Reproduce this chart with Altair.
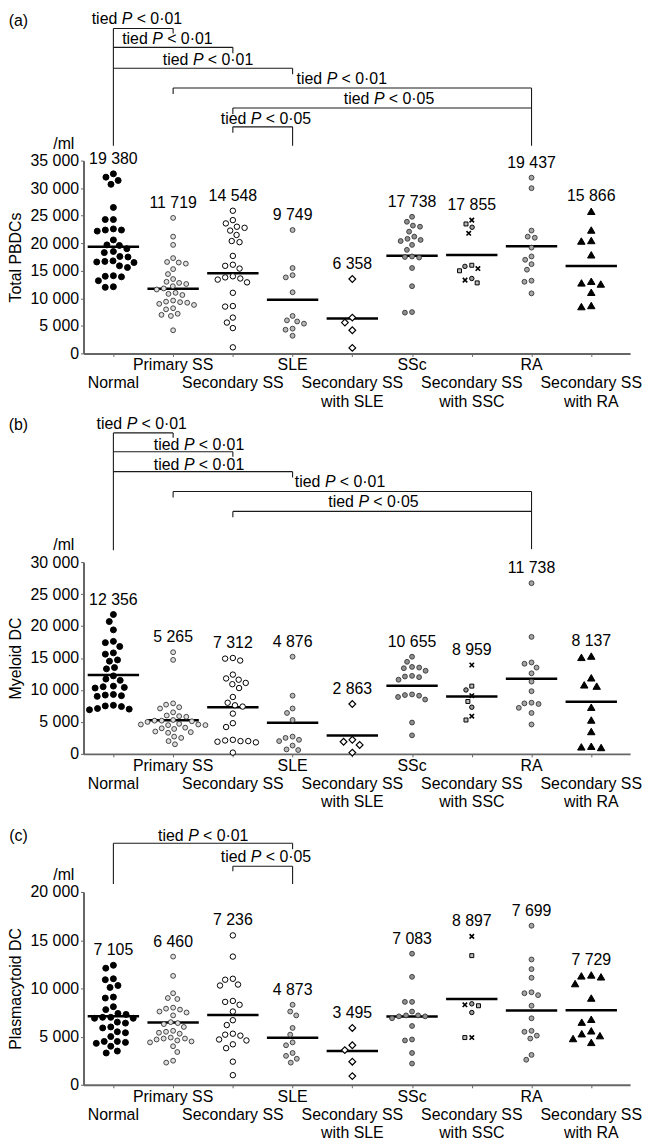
import altair as alt
import pandas as pd

# ---------------- data ----------------
GROUPS = ["Normal", "Primary SS", "Secondary SS", "SLE", "Secondary SS with SLE",
          "SSc", "Secondary SS with SSC", "RA", "Secondary SS with RA"]
LABEL_LINES = [["Normal"], ["Primary SS"], ["Secondary SS"], ["SLE"],
               ["Secondary SS", "with SLE"], ["SSc"], ["Secondary SS", "with SSC"],
               ["RA"], ["Secondary SS", "with RA"]]

# (a) Total PBDCs /ml
tot_normal = [32600, 32000, 31400, 30700, 26500, 24300, 24300, 22600, 22400, 22400, 22200,
              20600, 19700, 19600, 19000, 18500, 18300, 17600, 17500, 16800, 16700, 16600,
              16500, 15900, 15600, 14100, 14000, 13900, 13200, 12100, 12000]
tot_pss = [24600, 21200, 19700, 17300, 16600, 16500, 16300, 15300, 14400, 13500, 13000, 12800,
           12600, 12200, 11800, 11600, 11000, 10800, 10600, 9600, 9400, 9300, 9200, 9000, 8800,
           8200, 8000, 7200, 7000, 6800, 4200]
tot_sss = [25900, 24200, 23600, 23000, 22800, 22300, 21500, 20400, 20200, 17700, 16100, 15900,
           15400, 14000, 13800, 13600, 13400, 12900, 11000, 8600, 8500, 6500, 5600, 4600, 1100]
tot_sle = [22400, 15500, 14200, 13800, 11100, 6800, 6000, 5800, 5400, 4500, 4300, 3200]
tot_ssle = [13500, 6500, 5600, 4200, 1000]
tot_ssc = [24800, 23900, 23200, 23000, 22100, 21200, 20800, 20600, 20400, 19700, 18800, 17600,
           17500, 17400, 15500, 12200, 7500, 7400]
tot_sssc = [24200, 23500, 22900, 21800, 16000, 15800, 15400, 15000, 13600, 13300, 12800]
tot_ra = [31900, 30000, 22300, 21200, 21000, 19200, 17600, 17000, 16200, 15200, 13200, 13000, 10900]
tot_sra = [25800, 22400, 20500, 20400, 17900, 13100, 12800, 12600, 11100, 8700, 8500]
TOT_MEANS = [19380, 11719, 14548, 9749, 6358, 17738, 17855, 19437, 15866]

# (b) Myeloid DC /ml
mye_normal = [21800, 20700, 19400, 17600, 17400, 16800, 15800, 15600, 14700, 14500, 13500, 13300,
              12200, 11700, 11500, 10600, 10500, 10400, 10300, 9300, 9200, 9100, 9000, 7600,
              7500, 7400, 7100, 7000, 6900]
mye_pss = [15900, 14700, 7900, 7700, 7300, 7100, 6500, 6000, 5900, 5800, 5300, 5200, 5200, 5100,
           5000, 4700, 4600, 4600, 4500, 4500, 4100, 4000, 3900, 3500, 3400, 3300, 2700, 2500,
           2000, 1500]
mye_sss = [15000, 14900, 14600, 12400, 11800, 11600, 11100, 10900, 10300, 8900, 8000, 7600, 7400,
           6300, 4800, 4200, 2200, 2100, 2000, 2000, 1900, 1800, 200]
mye_sle = [15200, 9100, 7100, 6400, 5300, 2700, 2500, 2200, 2000, 1300, 700, 600]
mye_ssle = [7800, 2200, 1900, 1400, 200]
mye_ssc = [15200, 14400, 13600, 13500, 13400, 13000, 12200, 12100, 12000, 11600, 9300, 9200, 9100,
           8900, 8500, 4900, 2900]
mye_sssc = [13900, 10600, 10000, 9100, 8200, 7300, 5900, 5300]
mye_ra = [26700, 18300, 14300, 14100, 13500, 12600, 11300, 9800, 8000, 7900, 7800, 7200, 6400, 4600]
mye_sra = [15300, 15100, 11900, 10800, 10600, 7300, 5300, 3500, 1200, 1100, 1000]
MYE_MEANS = [12356, 5265, 7312, 4876, 2863, 10655, 8959, 11738, 8137]

# (c) Plasmacytoid DC /ml
pla_normal = [12400, 12100, 11000, 10900, 10300, 10100, 9100, 9000, 8100, 7800, 7400, 7300, 7000,
              7000, 6900, 6900, 6500, 6400, 6000, 5900, 5500, 5400, 5000, 4500, 4500, 4400, 4300,
              4000, 3500, 3300]
pla_pss = [13300, 11300, 9500, 9000, 8900, 8000, 7900, 7800, 7600, 7500, 7200, 6500, 6400, 6300,
           6000, 5600, 5500, 5400, 5300, 4900, 4800, 4800, 4700, 4600, 4500, 4400, 4000, 3400,
           2500, 2300]
pla_sss = [15500, 13300, 11000, 10900, 10400, 10300, 8700, 8600, 8300, 7600, 6700, 6200, 5300,
           5200, 5100, 4700, 4600, 4200, 3800, 2400, 1000]
pla_sle = [8300, 7600, 7200, 5900, 5200, 4400, 4100, 3300, 3000, 2700, 2300]
pla_ssle = [5900, 4100, 3600, 2400, 900]
pla_ssc = [13600, 11200, 8600, 8600, 7600, 7200, 7200, 7100, 7100, 6900, 6100, 4700, 4600, 3300, 2200]
pla_sssc = [15400, 13400, 8400, 8300, 8200, 7500, 4900, 4900]
pla_ra = [16500, 13000, 12000, 11100, 9600, 9500, 9300, 8200, 6900, 5600, 5500, 5100, 4800, 3100, 2600]
pla_sra = [11400, 11300, 11200, 10500, 9000, 6800, 6500, 5600, 5300, 5100, 4800, 4400]
PLA_MEANS = [7105, 6460, 7236, 4873, 3495, 7083, 8897, 7699, 7729]

# significance brackets: (group from, group to, p text)
BRK_A = [(0, 1, "< 0·01"), (0, 2, "< 0·01"), (0, 3, "< 0·01"), (1, 7, "< 0·01"), (2, 7, "< 0·05"), (2, 3, "< 0·05")]
BRK_B = [(0, 1, "< 0·01"), (0, 2, "< 0·01"), (0, 3, "< 0·01"), (1, 7, "< 0·01"), (2, 7, "< 0·05")]
BRK_C = [(0, 3, "< 0·01"), (2, 3, "< 0·05")]

# ---------------- layout / style ----------------
W = 550
XMAX = 9.15
PPU = W / XMAX
FONT = "Liberation Sans"
FS = 16
# bracket geometry: (line px above plot, left end px, right end px, text x in category units, text px above)
GEOM_A = [(133, 15, 128, 0.89, 142), (114, 114, 108, 1.40, 122), (93, 93, 87, 2.08, 101),
          (73, 67, 15, 4.32, 82), (53, 47, 53, 5.11, 62), (34, 28, 15, 3.05, 42)]
GEOM_B = [(130, 12, 125, 0.97, 139), (111, 111, 106, 1.93, 118), (91, 91, 85, 1.93, 98),
          (71, 65, 13, 4.29, 81), (51, 45, 51, 4.85, 60)]
GEOM_C = [(49, 8, 43, 2.0, 56), (26, 21, 8, 3.05, 35)]

XPATH = "M-1,-1L1,1M-1,1L1,-1"
MARKERS = {  # shape, fill, stroke, size, strokeWidth, diameter(px) for swarm
    "normal": ("circle", "#000000", "#000000", 36, 1.0, 7.2),
    "pss": ("circle", "#dedede", "#333333", 24, 0.9, 6.2),
    "sss": ("circle", "#ffffff", "#000000", 30, 1.0, 6.8),
    "sle": ("circle", "#b8b8b8", "#333333", 24, 0.9, 6.2),
    "ssle": ("diamond", "#ffffff", "#000000", 46, 1.2, 8.0),
    "ssc": ("circle", "#8f8f8f", "#333333", 24, 0.9, 6.2),
    "sssc_x": (XPATH, "#000000", "#000000", 20, 1.6, 6.0),
    "sssc_sq": ("square", "#bbbbbb", "#000000", 16, 1.0, 6.0),
    "sssc_o": ("circle", "#999999", "#000000", 20, 1.0, 6.0),
    "ra": ("circle", "#a5a5a5", "#333333", 24, 0.9, 6.2),
    "sra": ("triangle-up", "#000000", "#000000", 56, 1.0, 9.0),
}
GROUP_MARK = ["normal", "pss", "sss", "sle", "ssle", "ssc", "sssc", "ra", "sra"]


def fmt(v):
    return f"{v:,}".replace(",", " ")


def swarm(vals, H, ymax, d):
    ys = [v / ymax * H for v in vals]
    order = sorted(range(len(vals)), key=lambda k: -vals[k])
    placed = []
    out = [0.0] * len(vals)
    for k in order:
        y = ys[k]
        near = [(px, py) for px, py in placed if abs(py - y) < d]
        cands = [0.0]
        for px, py in near:
            w = max(d * d - (py - y) ** 2, 0) ** 0.5
            cands += [px - w, px + w]
        cands.sort(key=lambda c: (round(abs(c), 6), c))
        for c in cands:
            if all((c - px) ** 2 + (y - py) ** 2 >= d * d - 1e-6 for px, py in near):
                out[k] = c
                placed.append((c, y))
                break
    return out


def panel(series, means, ymax, H, ytitle, letter, letter_px, brk, geom, spacer_px=None):
    u = ymax / H
    xs = alt.Scale(domain=[0, XMAX], nice=False, zero=False)
    ys = alt.Scale(domain=[0, ymax], nice=False, zero=True)
    xax = alt.Axis(values=[i + 0.5 for i in range(len(GROUPS))], labels=False, title=None,
                   grid=False, tickSize=3, tickColor="#666666", domainColor="#666666",
                   domainWidth=2)
    yax = alt.Axis(values=list(range(0, ymax + 1, 5000)), title=ytitle, grid=False, tickSize=3,
                   tickColor="#666666", domainColor="#666666", domainWidth=2,
                   labelFont=FONT, labelFontSize=FS, labelColor="black", labelPadding=2,
                   titleFont=FONT, titleFontSize=FS, titleFontWeight="normal",
                   titleColor="black", titlePadding=6,
                   labelExpr="replace(format(datum.value, ','), ',', ' ')")
    X = alt.X("x:Q", scale=xs, axis=xax)
    Y = alt.Y("y:Q", scale=ys, axis=yax)

    # points
    rows = []
    for i, vals in enumerate(series):
        gm = GROUP_MARK[i]
        d = MARKERS["sssc_o" if gm == "sssc" else gm][5] + 1.0
        offs = swarm(vals, H, ymax, d)
        for k, (v, o) in enumerate(zip(vals, offs)):
            m = ["sssc_x", "sssc_sq", "sssc_o"][k % 3] if gm == "sssc" else gm
            sh, fi, st, sz, sw, _ = MARKERS[m]
            rows.append({"x": i + 0.5 + o / PPU, "y": v, "shape": sh, "fill": fi,
                         "stroke": st, "size": sz, "sw": sw})
    pts = alt.Chart(pd.DataFrame(rows)).mark_point(filled=True, opacity=1).encode(
        x=X, y=Y,
        shape=alt.Shape("shape:N", scale=None),
        fill=alt.Fill("fill:N", scale=None),
        stroke=alt.Stroke("stroke:N", scale=None),
        size=alt.Size("size:Q", scale=None),
        strokeWidth=alt.StrokeWidth("sw:Q", scale=None),
    )

    # mean lines
    mdf = pd.DataFrame({"x": [i + 0.5 - 0.43 for i in range(9)],
                        "x2": [i + 0.5 + 0.43 for i in range(9)],
                        "y": means})
    mlines = alt.Chart(mdf).mark_rule(color="black", strokeWidth=2.5).encode(
        x=X, x2="x2:Q", y=Y)

    # mean labels
    ldf = pd.DataFrame({"x": [i + 0.5 for i in range(9)],
                        "y": [max(s) for s in series],
                        "t": [fmt(m) for m in means]})
    mlabels = alt.Chart(ldf).mark_text(font=FONT, fontSize=FS, color="black", dy=-15).encode(
        x=X, y=Y, text="t:N")

    # category labels
    crow = []
    for i, lines in enumerate(LABEL_LINES):
        r0 = 0 if i % 2 == 1 else 1
        for k, t in enumerate(lines):
            crow.append({"x": i + 0.5, "y": -(12 + 18.3 * (r0 + k)) * u, "t": t})
    clabels = alt.Chart(pd.DataFrame(crow)).mark_text(font=FONT, fontSize=FS, color="black").encode(
        x=X, y=Y, text="t:N")

    # brackets
    seg = []
    trow = []
    for (g1, g2, ptxt), (ln, le, re_, tx, ty) in zip(brk, geom):
        x1, x2 = g1 + 0.5, g2 + 0.5
        yl = ymax + ln * u
        seg.append({"x": x1, "x2": x2, "y": yl, "y2": yl})
        if le != ln:
            seg.append({"x": x1, "x2": x1, "y": yl, "y2": ymax + le * u})
        if re_ != ln:
            seg.append({"x": x2, "x2": x2, "y": yl, "y2": ymax + re_ * u})
        trow.append({"x": tx, "y": ymax + ty * u, "t": ptxt})
    brules = alt.Chart(pd.DataFrame(seg)).mark_rule(color="#1a1a1a", strokeWidth=1.1).encode(
        x=X, x2="x2:Q", y=Y, y2="y2:Q")
    tdf = pd.DataFrame(trow)
    t_tied = alt.Chart(tdf).mark_text(font=FONT, fontSize=FS, color="black", align="right",
                                      dx=-19.5).encode(x=X, y=Y, text=alt.value("tied"))
    t_p = alt.Chart(tdf).mark_text(font=FONT, fontSize=FS, color="black", align="center",
                                   fontStyle="italic", dx=-9.6).encode(x=X, y=Y, text=alt.value("P"))
    t_rest = alt.Chart(tdf).mark_text(font=FONT, fontSize=FS, color="black", align="left",
                                      dx=0).encode(x=X, y=Y, text="t:N")

    # panel letter, unit, optional spacer
    arow = [{"x": -1.09, "y": ymax + letter_px * u, "t": letter, "c": "black"},
            {"x": -0.33, "y": ymax + 17 * u, "t": "/ml", "c": "black"}]
    if spacer_px is not None:
        arow.append({"x": 0.0, "y": ymax + spacer_px * u, "t": ".", "c": "white"})
    ann = alt.Chart(pd.DataFrame(arow)).mark_text(font=FONT, fontSize=FS).encode(
        x=X, y=Y, text="t:N", color=alt.Color("c:N", scale=None))

    return alt.layer(brules, mlines, pts, mlabels, clabels, t_tied, t_p, t_rest, ann).properties(
        width=W, height=H)


pa = panel([tot_normal, tot_pss, tot_sss, tot_sle, tot_ssle, tot_ssc, tot_sssc, tot_ra, tot_sra],
           TOT_MEANS, 35000, 194, "Total PBDCs", "(a)", 140, BRK_A, GEOM_A)
pb = panel([mye_normal, mye_pss, mye_sss, mye_sle, mye_ssle, mye_ssc, mye_sssc, mye_ra, mye_sra],
           MYE_MEANS, 30000, 193, "Myeloid DC", "(b)", 138, BRK_B, GEOM_B)
pc = panel([pla_normal, pla_pss, pla_sss, pla_sle, pla_ssle, pla_ssc, pla_sssc, pla_ra, pla_sra],
           PLA_MEANS, 20000, 194, "Plasmacytoid DC", "(c)", 56, BRK_C, GEOM_C, spacer_px=67)

chart = alt.vconcat(pa, pb, pc, spacing=6).properties(padding=0).configure_view(strokeWidth=0)

chart.save("out.html", embed_options={"renderer": "svg", "actions": False})
